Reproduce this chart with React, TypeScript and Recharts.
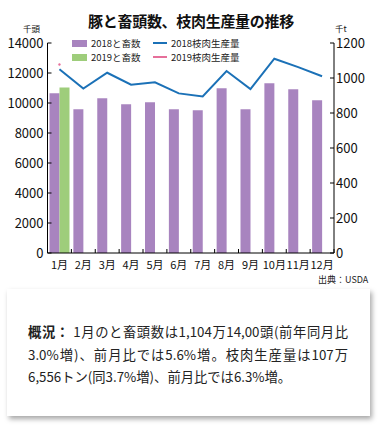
import {
  ComposedChart,
  Bar,
  Line,
  XAxis,
  YAxis,
  Legend,
} from "recharts";

const months = ["1月", "2月", "3月", "4月", "5月", "6月", "7月", "8月", "9月", "10月", "11月", "12月"];
// と畜頭数（千頭）
const heads2018 = [10650, 9580, 10320, 9920, 10050, 9580, 9520, 10980, 9580, 11310, 10910, 10180];
const heads2019: (number | null)[] = [11041, null, null, null, null, null, null, null, null, null, null, null];
// 枝肉生産量（千t）
const prod2018 = [1050, 940, 1030, 962, 975, 912, 895, 1040, 937, 1110, 1062, 1010];
const prod2019: (number | null)[] = [1077, null, null, null, null, null, null, null, null, null, null, null];

const leftTicks = [0, 2000, 4000, 6000, 8000, 10000, 12000, 14000];
const rightTicks = [0, 200, 400, 600, 800, 1000, 1200];

const seriesNames = ["2018と畜数", "2018枝肉生産量", "2019と畜数", "2019枝肉生産量"];

const data = months.map((m, i) => ({
  month: m,
  h2018: heads2018[i],
  h2019: heads2019[i],
  p2018: prod2018[i],
  p2019: prod2019[i],
}));

const FONT = '"Noto Sans CJK JP", "Noto Sans", sans-serif';
const PURPLE = "#a884bf";
const GREEN = "#9ecd7b";
const BLUE = "#1b71b7";
const PINK = "#e66f9a";

// 月ラベル + 区切り目盛（内向き）
const MonthTick = (props: any) => {
  const { x, y, payload, index } = props;
  const half = payload?.offset ?? 0;
  return (
    <g>
      <line x1={x - half} x2={x - half} y1={y} y2={y - 4} stroke="#000" />
      {index === months.length - 1 && (
        <line x1={x + half} x2={x + half} y1={y} y2={y - 4} stroke="#000" />
      )}
      <text x={x} y={y + 16} textAnchor="middle" fontSize={11} fill="#111" fontFamily={FONT}>
        {payload.value}
      </text>
    </g>
  );
};

const LegendBox = ({ payload }: any) => {
  const items = [...(payload || [])].sort(
    (a: any, b: any) => seriesNames.indexOf(a.value) - seriesNames.indexOf(b.value)
  );
  return (
    <div
      style={{
        display: "grid",
        gridTemplateColumns: "81px 100px",
        rowGap: 2,
        fontFamily: FONT,
        fontSize: 9.5,
        color: "#222",
      }}
    >
      {items.map((it: any) => {
        const isBar = it.type === "rect";
        return (
          <div key={it.value} style={{ display: "flex", alignItems: "center", height: 12 }}>
            {isBar ? (
              <span style={{ width: 15, height: 7, background: it.color, marginRight: 4 }} />
            ) : (
              <span style={{ width: 14, height: 2.5, background: it.color, marginRight: 4 }} />
            )}
            <span>{it.value}</span>
          </div>
        );
      })}
    </div>
  );
};

export default function App() {
  return (
    <div
      style={{
        position: "absolute",
        left: 0,
        top: 0,
        width: 382,
        height: 429,
        background: "#fff",
        fontFamily: FONT,
        overflow: "hidden",
      }}
    >
      <div
        style={{
          position: "absolute",
          top: 10,
          left: 0,
          width: 382,
          textAlign: "center",
          fontSize: 15,
          fontWeight: 700,
          color: "#111",
          letterSpacing: -0.3,
        }}
      >
        豚と畜頭数、枝肉生産量の推移
      </div>
      <div style={{ position: "absolute", top: 24, left: 23, fontSize: 8.5, lineHeight: 1, color: "#111" }}>千頭</div>
      <div style={{ position: "absolute", top: 24, left: 335, fontSize: 8.5, lineHeight: 1, color: "#111" }}>千t</div>

      <div style={{ position: "absolute", top: 0, left: 0 }}>
        <ComposedChart
          width={382}
          height={290}
          data={data}
          barCategoryGap={2}
          barGap={0}
          margin={{ top: 43, right: 0, bottom: 17, left: 0 }}
        >
          <XAxis
            dataKey="month"
            axisLine={{ stroke: "#000" }}
            tickLine={false}
            tickSize={0}
            tickMargin={0}
            height={20}
            interval={0}
            tick={<MonthTick />}
          />
          <YAxis
            yAxisId="left"
            orientation="left"
            width={47.5}
            domain={[0, 14000]}
            ticks={leftTicks}
            interval={0}
            axisLine={{ stroke: "#000" }}
            tickLine={{ stroke: "#000" }}
            tickSize={-4}
            tickMargin={8}
            tick={{ fontSize: 13, fill: "#111", fontFamily: FONT }}
          />
          <YAxis
            yAxisId="right"
            orientation="right"
            width={48}
            domain={[0, 1200]}
            ticks={rightTicks}
            interval={0}
            axisLine={{ stroke: "#000" }}
            tickLine={{ stroke: "#000" }}
            tickSize={-4}
            tickMargin={6}
            tick={{ fontSize: 13, fill: "#111", fontFamily: FONT }}
          />
          <Legend
            layout="vertical"
            align="center"
            verticalAlign="middle"
            wrapperStyle={{ top: 37, left: 72, width: 190, height: 30 }}
            content={<LegendBox />}
          />
          <Bar
            yAxisId="left"
            dataKey="h2018"
            name="2018と畜数"
            fill={PURPLE}
            legendType="rect"
            isAnimationActive={false}
          />
          <Bar
            yAxisId="left"
            dataKey="h2019"
            name="2019と畜数"
            fill={GREEN}
            legendType="rect"
            isAnimationActive={false}
          />
          <Line
            yAxisId="right"
            dataKey="p2018"
            name="2018枝肉生産量"
            stroke={BLUE}
            strokeWidth={2}
            dot={false}
            legendType="line"
            isAnimationActive={false}
          />
          <Line
            yAxisId="right"
            dataKey="p2019"
            name="2019枝肉生産量"
            stroke={PINK}
            strokeWidth={2}
            dot={{ r: 1, fill: PINK, stroke: PINK, strokeWidth: 0.5 }}
            legendType="line"
            isAnimationActive={false}
          />
        </ComposedChart>
      </div>

      <div
        style={{
          position: "absolute",
          top: 273,
          left: 318,
          fontSize: 9,
          color: "#222",
        }}
      >
        出典：USDA
      </div>

      <div
        style={{
          position: "absolute",
          left: 7,
          top: 289,
          width: 363,
          height: 127,
          background: "#fff",
          boxShadow: "2px 3px 5px rgba(0,0,0,0.35)",
        }}
      >
        <div
          style={{
            position: "absolute",
            left: 21,
            top: 32,
            width: 320,
            fontSize: 13.3,
            lineHeight: "22.5px",
            color: "#222",
          }}
        >
          <div style={{ textAlignLast: "justify", textAlign: "justify" }}>
            <b>概況：</b> 1月のと畜頭数は1,104万14,00頭(前年同月比
          </div>
          <div style={{ textAlignLast: "justify", textAlign: "justify" }}>
            3.0%増)、前月比では5.6%増。枝肉生産量は107万
          </div>
          <div>6,556トン(同3.7%増)、前月比では6.3%増。</div>
        </div>
      </div>
    </div>
  );
}
